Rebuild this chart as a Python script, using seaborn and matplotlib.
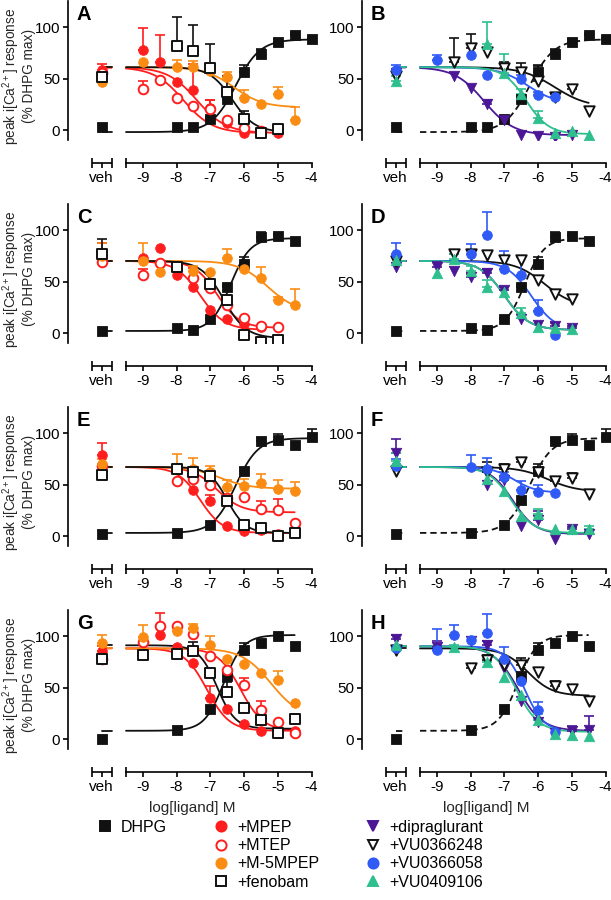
import numpy as np
import matplotlib
matplotlib.use("Agg")
import matplotlib.pyplot as plt
from matplotlib.lines import Line2D
from matplotlib.transforms import offset_copy
import seaborn as sns

sns.set_style("ticks", {"axes.edgecolor": "black", "xtick.color": "black",
                        "ytick.color": "black", "text.color": "black"})
plt.rcParams["font.family"] = ["Liberation Sans", "DejaVu Sans"]
plt.rcParams["mathtext.fontset"] = "custom"
plt.rcParams["mathtext.rm"] = "Liberation Sans"
plt.rcParams["mathtext.it"] = "Liberation Sans:italic"

_ = np.nan

# x positions: vehicle + log concentrations
VEH = -10.22
LOGC = [-9.0, -8.5, -8.0, -7.5, -7.0, -6.5, -6.0, -5.5, -5.0, -4.5, -4.0]
XTICKS = [-9, -8, -7, -6, -5, -4]

# every list: [veh, -9, -8.5, -8, -7.5, -7, -6.5, -6, -5.5, -5, -4.5, -4]
# fits: (response at low conc, response at high conc, log mid, hill slope)
DHPG_1 = [3, _, _, 3, 2.5, 11, 30, 56, 74, 85, 92, 88]
DHPG_1_err = [0, _, _, 0, 0, 2, 3, 7, 5, 3, 2, 1]
DHPG_1_fit = (-2, 88, -6.25, 1.2)
DHPG_2 = [2, _, _, 5, 3, 14, 45, 67.5, 93, 94, 89, _]
DHPG_2_err = [0, _, _, 0, 0, 1, 2, 6, 5, 2, 0, _]
DHPG_2_fit = (2, 92, -6.4, 1.5)
DHPG_3 = [1.6, _, _, 2.6, _, 11, 35, 63, 92, 93, 88, 96]
DHPG_3_err = [0, _, _, 0, _, 0, 0, 3, 3, 6, 0, 8]
DHPG_3_fit = (3, 95, -6.25, 1.3)
DHPG_4 = [0, _, _, 9, _, 29, 61, 86, 93, 100, 90, _]
DHPG_4_err = [0, _, _, 0, _, 0, 0, 7, 3, 0, 0, _]
DHPG_4_fit = (8, 101, -6.6, 1.5)

A_mean = {
    "+MPEP":    [58, 78, 66, 47, 39, 21, 6.5, -3, -3, -3, _, _],
    "+MTEP":    [55, 40, 49, 31, 23, 20, 10, 1.5, -1, _, _, _],
    "+M-5MPEP": [47, 66, _, 61, 61, 57, 51, 31, 25, 34.5, 10, _],
    "+fenobam": [51, _, _, 82, 77, 60, 37, 11, -2.5, 0.5, _, _],
}
A_err = {
    "+MPEP":    [6, 21, 26, 0, 25, 8, 3, 0, 0, 0, _, _],
    "+MTEP":    [0, 8, 0, 0, 0, 9, 0, 0, 0, _, _, _],
    "+M-5MPEP": [0, 0, _, 7, 6, 6, 5, 8, 0, 7, 12, _],
    "+fenobam": [0, _, _, 28, 25, 24, 15, 7, 0, 0, _, _],
}
A_fit = {
    "+MPEP": (61, -3, -7.4, 1.0),
    "+MTEP": (61, -3, -7.8, 1.0),
    "+M-5MPEP": (61, 22, -6.3, 1.0),
    "+fenobam": (61, -2, -6.35, 1.3),
}

B_mean = {
    "+dipraglurant": [55, _, 52, 41, 25, 10, -5, -5.5, -7, -5, _, _],
    "+VU0366248":    [52, _, 66, 80, 76, 60, 56, 48, 32, 40, 18, _],
    "+VU0366058":    [58, 68, _, 73, 53, _, 50, 34, 32, _, _, _],
    "+VU0409106":    [48, _, _, _, 84, 55, 35, 12, -3, -1, -5, _],
}
B_err = {
    "+dipraglurant": [0, _, 0, 0, 4, 0, 0, 0, 0, 0, _, _],
    "+VU0366248":    [0, _, 23, 13, 0, 6, 9, 14, 3, 4, 0, _],
    "+VU0366058":    [5, 5, _, 0, 0, _, 3, 3, 3, _, _, _],
    "+VU0409106":    [4, _, _, _, 21, 19, 5, 6, 0, 0, 0, _],
}
B_fit = {
    "+dipraglurant": (61, -5, -7.6, 1.0),
    "+VU0366248": (61, 22, -5.5, 0.9),
    "+VU0366058": (61, 25, -6.3, 1.0),
    "+VU0409106": (61, -4, -6.35, 1.3),
}

C_mean = {
    "+MPEP":    [76, 73, 83, 56, 45, 22, 14, 9, 6, _, _, _],
    "+MTEP":    [69, 56, 68, _, 53, 44, 27, 15, 6.5, 6, _, _],
    "+M-5MPEP": [75, 70, 59, _, 60, 59, 73, 62, 53, 32.5, 27, _],
    "+fenobam": [77, _, _, 64, _, 48, 32, -2, -9, -6.5, _, _],
}
C_err = {
    "+MPEP":    [11, 0, 0, 0, 0, 0, 0, 0, 0, _, _, _],
    "+MTEP":    [0, 6, 0, _, 10, 4, 0, 0, 0, 0, _, _],
    "+M-5MPEP": [12, 17, 0, _, 5, 0, 9, 0, 11, 2, 16, _],
    "+fenobam": [14, _, _, 0, _, 10, 0, 0, 0, 0, _, _],
}
C_fit = {
    "+MPEP": (70, 3, -7.3, 1.2),
    "+MTEP": (70, 5, -6.8, 1.3),
    "+M-5MPEP": (70, 20, -5.3, 1.0),
    "+fenobam": (70, -5, -6.6, 1.3),
}

D_mean = {
    "+dipraglurant": [64, 64, 60, 54.5, 58, 41.5, 14, 7.5, 6.5, 5, _, _],
    "+VU0366248":    [70, _, 77, 77, 75.6, 71, 71, 51, 38, 33, _, _],
    "+VU0366058":    [77, _, _, 76.6, 95, 62, 56, 21, -2, _, _, _],
    "+VU0409106":    [71, 58, 72, 60, 45, 40, 19, 6, 5, 4, _, _],
}
D_err = {
    "+dipraglurant": [0, 5, 0, 3, 4, 3, 0, 0, 3, 2, _, _],
    "+VU0366248":    [0, _, 3, 0, 0, 0, 0, 0, 0, 0, _, _],
    "+VU0366058":    [10, _, _, 10, 23, 18, 18, 11, 0, _, _, _],
    "+VU0409106":    [0, 0, 5, 5, 6, 0, 5, 0, 0, 0, _, _],
}
D_fit = {
    "+dipraglurant": (70, 3, -7.0, 1.2),
    "+VU0366248": (70, 25, -5.8, 1.0),
    "+VU0366058": (70, 2, -6.2, 1.2),
    "+VU0409106": (70, 3, -7.0, 1.2),
}

E_mean = {
    "+MPEP":    [78.6, _, _, 66, 44.5, 34, 10, 5, 5.5, 2, 3, _],
    "+MTEP":    [68, _, _, 53.6, 55, 50, 37, 38, 26, 25, 13, _],
    "+M-5MPEP": [70, _, _, 66.5, 65, 62, 48, 49, 51, 46, 44, _],
    "+fenobam": [59, _, _, 65, 62, 58, 34, 11, 8, 0, 3, _],
}
E_err = {
    "+MPEP":    [12, _, _, 0, 0, 6, 0, 0, 0, 0, 0, _],
    "+MTEP":    [0, _, _, 0, 0, 0, 0, 0, 8, 11, 0, _],
    "+M-5MPEP": [5, _, _, 13, 11, 6, 6, 6, 9, 8, 8, _],
    "+fenobam": [0, _, _, 0, 4, 0, 0, 0, 3, 0, 0, _],
}
E_fit = {
    "+MPEP": (67, 3, -7.3, 1.3),
    "+MTEP": (67, 23, -6.8, 1.2),
    "+M-5MPEP": (67, 46, -6.7, 1.0),
    "+fenobam": (67, 3, -6.5, 1.6),
}

F_mean = {
    "+dipraglurant": [81, _, _, _, 50, 54, 10, 16, -3, 6.5, 1.6, _],
    "+VU0366248":    [63, _, _, _, 62, 65, 72, 62, 53.6, 56, 40.6, _],
    "+VU0366058":    [68, _, _, 67, 65, 57.5, 44.5, 43, 42, _, _, _],
    "+VU0409106":    [73, _, _, _, 55, 44, 19.5, 21, 6.5, 7, 6.5, _],
}
F_err = {
    "+dipraglurant": [13, _, _, _, 0, 11, 0, 8, 0, 2, 2, _],
    "+VU0366248":    [0, _, _, _, 10, 5, 3, 8, 3, 5, 0, _],
    "+VU0366058":    [7, _, _, 12, 11, 5, 9, 7, 0, _, _, _],
    "+VU0409106":    [8, _, _, _, 0, 0, 0, 5, 0, 0, 3, _],
}
F_fit = {
    "+dipraglurant": (67, 2, -6.75, 1.3),
    "+VU0366248": (67, 43, -5.7, 1.0),
    "+VU0366058": (67, 42, -6.7, 1.3),
    "+VU0409106": (67, 3, -6.8, 1.3),
}

G_mean = {
    "+MPEP":    [85, _, 101, 89, 74, 40, 29.5, 14.7, 7.7, 6, 8, _],
    "+MTEP":    [77.6, 94, 110, 110, 102, 81, 67, 52.6, 28.5, 16.7, 6, _],
    "+M-5MPEP": [93.6, 99, _, 104.5, 108, 91, 78, 72.4, 63.8, 57, 35, _],
    "+fenobam": [78, 82, _, 83, 85, 64, 46, 30, 18, 6, 19, _],
}
G_err = {
    "+MPEP":    [5, _, 0, 0, 0, 11, 0, 0, 0, 0, 0, _],
    "+MTEP":    [0, 0, 12, 0, 5, 0, 0, 7, 8, 0, 0, _],
    "+M-5MPEP": [7, 12, _, 5, 4, 9, 0, 0, 0, 9, 0, _],
    "+fenobam": [0, 0, _, 0, 9, 0, 9, 4, 6, 0, 5, _],
}
G_fit = {
    "+MPEP": (88, 8, -7.1, 1.3),
    "+MTEP": (88, 8, -6.1, 1.3),
    "+M-5MPEP": (88, 20, -5.2, 1.0),
    "+fenobam": (91, 10, -6.8, 1.6),
}

H_mean = {
    "+dipraglurant": [97, 89.7, _, 95, 91, 69, 37, 16.5, 6, 7.5, 9, _],
    "+VU0366248":    [86.5, _, _, 68.7, 77, 72, 72, 65, 51, 48.7, 37, _],
    "+VU0366058":    [88, 86.5, 101, 96, 102.6, 78, 56, 28, 6.5, _, _, _],
    "+VU0409106":    [91, _, 89.7, _, 75, 60.6, 43, 18, 5, 4, 2.6, _],
}
H_err = {
    "+dipraglurant": [4, 5, _, 0, 4, 0, 0, 0, 0, 5, 13, _],
    "+VU0366248":    [0, _, _, 3, 5, 0, 7, 0, 5, 0, 0, _],
    "+VU0366058":    [0, 20, 10, 0, 19, 11, 0, 8, 0, _, _, _],
    "+VU0409106":    [0, _, 2, _, 4, 0, 0, 6, 0, 0, 0, _],
}
H_fit = {
    "+dipraglurant": (90, 8, -6.6, 1.2),
    "+VU0366248": (88, 42, -6.3, 1.2),
    "+VU0366058": (90, 7, -6.4, 1.5),
    "+VU0409106": (90, 7, -6.65, 1.3),
}

RED, ORANGE = "#FF1E1E", "#FA8C14"
PURPLE, BLUE, TEAL = "#4C1796", "#2F5AF5", "#2FBF8E"
BLACK = "#111111"
STYLE = {
    "DHPG": (BLACK, "s", True),
    "+MPEP": (RED, "o", True),
    "+MTEP": (RED, "o", False),
    "+M-5MPEP": (ORANGE, "o", True),
    "+fenobam": (BLACK, "s", False),
    "+dipraglurant": (PURPLE, "v", True),
    "+VU0366248": (BLACK, "v", False),
    "+VU0366058": (BLUE, "o", True),
    "+VU0409106": (TEAL, "^", True),
}


def hill(x, lo, hi, mid, h):
    return lo + (hi - lo) / (1 + 10 ** ((mid - x) * h))


fig = plt.figure(figsize=(6.11, 9.0), dpi=100)
W, H = 611, 900
XPOS = np.array([VEH] + LOGC)
OUT = 16.3  # x-axis offset below the plot, points


def draw_series(ax, name, mean, err, fit, dashed=False):
    color, marker, filled = STYLE[name]
    y = np.array(mean, float)
    e = np.array(err, float)
    ok = ~np.isnan(y)
    last = XPOS[ok].max()
    ls = (0, (3.5, 2.2)) if dashed else "-"
    # fitted curve, in the vehicle stub and on the main axis
    for x0, x1 in [(VEH, -9.93), (-9.5, last)]:
        xs = np.linspace(x0, x1, 120)
        sns.lineplot(x=xs, y=hill(xs, *fit), color=color, lw=1.3,
                     linestyle=ls, ax=ax, zorder=2)
    eok = ok & (np.nan_to_num(e) > 0)
    ax.errorbar(XPOS[eok], y[eok], yerr=[np.zeros(eok.sum()), e[eok]],
                fmt="none", ecolor=color, elinewidth=1.2, capsize=3.6,
                capthick=1.2, zorder=3)
    size = 56 if marker in ("v", "^") else 48
    sns.scatterplot(x=XPOS[ok], y=y[ok], marker=marker, s=size, color=color,
                    facecolor=color if filled else "white", edgecolor=color,
                    linewidth=0.6 if filled else 1.4, ax=ax, zorder=4)


panels = [
    ("A", 0, 0, DHPG_1, DHPG_1_err, DHPG_1_fit, A_mean, A_err, A_fit),
    ("B", 0, 1, DHPG_1, DHPG_1_err, DHPG_1_fit, B_mean, B_err, B_fit),
    ("C", 1, 0, DHPG_2, DHPG_2_err, DHPG_2_fit, C_mean, C_err, C_fit),
    ("D", 1, 1, DHPG_2, DHPG_2_err, DHPG_2_fit, D_mean, D_err, D_fit),
    ("E", 2, 0, DHPG_3, DHPG_3_err, DHPG_3_fit, E_mean, E_err, E_fit),
    ("F", 2, 1, DHPG_3, DHPG_3_err, DHPG_3_fit, F_mean, F_err, F_fit),
    ("G", 3, 0, DHPG_4, DHPG_4_err, DHPG_4_fit, G_mean, G_err, G_fit),
    ("H", 3, 1, DHPG_4, DHPG_4_err, DHPG_4_fit, H_mean, H_err, H_fit),
]

for letter, row, col, dm, de, dfit, means, errs, fits in panels:
    left = (68 if col == 0 else 362) / W
    bottom = 1 - (140.3 + 203 * row) / H
    ax = fig.add_axes([left, bottom, 248.6 / W, 139 / H])

    draw_series(ax, "DHPG", dm, de, dfit, dashed=(col == 1))
    for name in means:
        draw_series(ax, name, means[name], errs[name], fits[name])

    ax.set_xlim(-11.22, -3.85)
    ax.set_ylim(-10, 125)
    ax.set_yticks([0, 50, 100])
    ax.set_xticks([VEH] + XTICKS)
    ax.set_xticklabels(["veh"] + [str(t) for t in XTICKS])
    ax.set_xticks([-10.52, -9.93, -9.5], minor=True)
    for s in ("top", "right"):
        ax.spines[s].set_visible(False)
    for s in ("left", "bottom"):
        ax.spines[s].set_linewidth(1.2)
    ax.spines["bottom"].set_bounds(-9.5, -4)
    ax.spines["bottom"].set_position(("outward", OUT))
    ax.tick_params(axis="both", which="major", length=3.6, width=1.2,
                   labelsize=11, pad=2)
    ax.tick_params(axis="x", which="minor", direction="inout", length=6.5,
                   width=1.2)
    # vehicle stub of the broken x axis
    trans = offset_copy(ax.get_xaxis_transform(), fig=fig, y=-OUT,
                        units="points")
    ax.plot([-10.52, -9.93], [0, 0], color="black", lw=1.2,
            transform=trans, clip_on=False, solid_capstyle="butt")
    ax.set_xlim(-11.22, -3.85)
    ax.set_ylim(-10, 125)

    ax.text(0.035, 0.975, letter, transform=ax.transAxes, fontsize=14.5,
            fontweight="bold", va="top", ha="left")
    if col == 0:
        ax.set_ylabel("peak i[Ca$^{\\mathregular{2+}}$] response\n(% DHPG max)",
                      fontsize=9.8, linespacing=1.0)
        ax.yaxis.set_label_coords(-0.128, 0.46)
    else:
        ax.set_ylabel("")
    if row == 3:
        ax.set_xlabel("log[ligand] M", fontsize=11)
        ax.xaxis.set_label_coords(0.5, -0.37)
    else:
        ax.set_xlabel("")


def handle(name):
    color, marker, filled = STYLE[name]
    return Line2D([], [], linestyle="none", marker=marker, markersize=7.3,
                  color=color, markerfacecolor=color if filled else "white",
                  markeredgecolor=color, markeredgewidth=1.4, label=name)


groups = [
    (97, ["DHPG"]),
    (213, ["+MPEP", "+MTEP", "+M-5MPEP", "+fenobam"]),
    (365, ["+dipraglurant", "+VU0366248", "+VU0366058", "+VU0409106"]),
]
for x0, names in groups:
    fig.legend(handles=[handle(n) for n in names], loc="upper left",
               bbox_to_anchor=(x0 / W, 1 - 820 / H), frameon=False,
               fontsize=11.5, handlelength=1.0, handletextpad=0.5,
               labelspacing=0.2, borderpad=0, borderaxespad=0)

fig.savefig("out.png", dpi=100)
